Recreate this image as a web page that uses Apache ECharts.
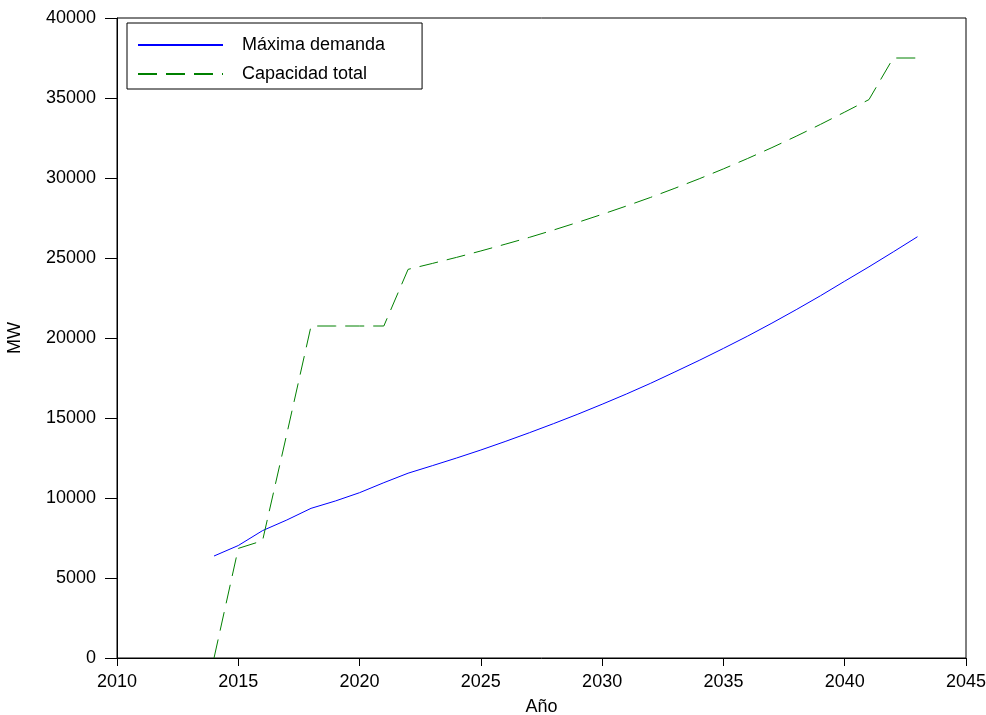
<!DOCTYPE html>
<html>
<head>
<meta charset="utf-8">
<script src="https://cdn.jsdelivr.net/npm/echarts@6/dist/echarts.min.js"></script>
<style>
html,body{margin:0;padding:0;background:#fff;}
#chart{width:986px;height:715px;}
</style>
</head>
<body>
<div id="chart"></div>
<script>
const years = [2014,2015,2016,2017,2018,2019,2020,2021,2022,2023,2024,2025,2026,2027,2028,2029,2030,2031,2032,2033,2034,2035,2036,2037,2038,2039,2040,2041,2042,2043];
const maximaDemanda = [6375,7030,7960,8625,9354,9812,10333,10958,11550,12020,12500,13000,13530,14080,14650,15240,15860,16500,17170,17880,18600,19350,20120,20930,21770,22640,23550,24450,25380,26330];
const capacidadTotal = [0,6850,7330,14000,20750,20750,20750,20750,24290,24660,25040,25440,25860,26290,26750,27230,27730,28250,28790,29360,29950,30570,31220,31900,32610,33350,34120,34900,37500,37500];
const xTicks = {min:2010, max:2045, interval:5};
const yTicks = {min:0, max:40000, interval:5000};

const pair = (xs, ys) => xs.map((x,i)=>[x, ys[i]]);
const font = "'Liberation Sans', Arial, sans-serif";

const chart = echarts.init(document.getElementById('chart'), null, {renderer:'canvas'});
chart.setOption({
  animation:false,
  backgroundColor:'#fff',
  textStyle:{fontFamily:font},
  grid:{left:117,right:20,top:18,bottom:57,show:true,borderColor:'#000',borderWidth:1,
        backgroundColor:'transparent', containLabel:false, outerBoundsMode:'none'},
  legend:{
    orient:'vertical', left:127, top:23,
    padding:[13,37,6,10], itemGap:11, itemWidth:85, itemHeight:14,
    borderColor:'#000', borderWidth:1,
    itemStyle:{opacity:0, color:'transparent', borderWidth:0},
    textStyle:{fontSize:18, color:'#000', fontFamily:font, padding:[0,0,0,14]},
    data:['Máxima demanda','Capacidad total']
  },
  xAxis:{
    type:'value', min:xTicks.min, max:xTicks.max, interval:xTicks.interval,
    name:'Año', nameLocation:'middle', nameGap:40,
    nameTextStyle:{fontSize:18, color:'#000', fontFamily:font},
    axisLine:{show:true, lineStyle:{color:'#000', width:1}},
    axisTick:{show:true, length:8, lineStyle:{color:'#000'}},
    axisLabel:{fontSize:18, color:'#000', margin:15, fontFamily:font, formatter:v=>String(v)},
    splitLine:{show:false}
  },
  yAxis:{
    type:'value', min:yTicks.min, max:yTicks.max, interval:yTicks.interval,
    name:'MW', nameLocation:'middle', nameGap:93, nameRotate:90,
    nameTextStyle:{fontSize:18, color:'#000', fontFamily:font},
    axisLine:{show:true, lineStyle:{color:'#000', width:1}},
    axisTick:{show:true, length:12, lineStyle:{color:'#000'}},
    axisLabel:{fontSize:18, color:'#000', margin:21, fontFamily:font, formatter:v=>String(v)},
    splitLine:{show:false}
  },
  series:[
    {name:'Máxima demanda', type:'line', data:pair(years, maximaDemanda), symbol:'none',
     lineStyle:{color:'#0000ff', width:1}, itemStyle:{color:'#0000ff'}},
    {name:'Capacidad total', type:'line', data:pair(years, capacidadTotal), symbol:'none',
     lineStyle:{color:'#008000', width:1, type:[19,9]}, itemStyle:{color:'#008000'}}
  ]
});
</script>
</body>
</html>
